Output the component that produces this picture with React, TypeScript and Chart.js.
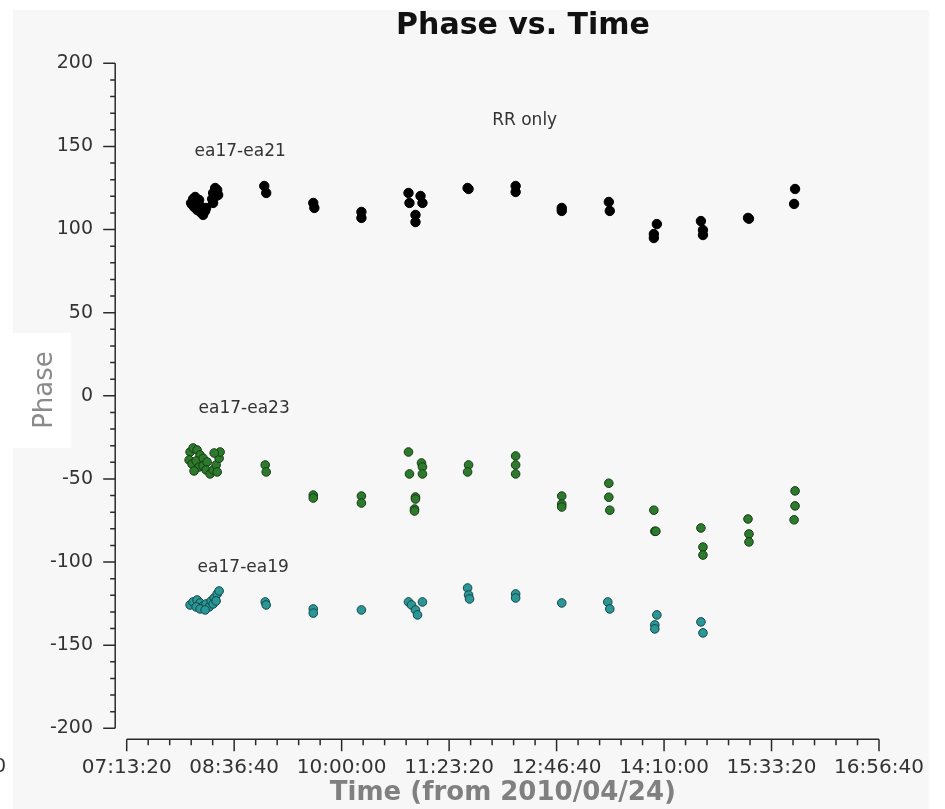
import React, { useEffect, useRef } from "react";
import { Chart, registerables } from "chart.js";

Chart.register(...registerables);

// ---------- text ----------
const TITLE = "Phase vs. Time";
const X_TITLE = "Time (from 2010/04/24)";
const Y_TITLE = "Phase";
const POL_NOTE = "RR only";

// ---------- axes ----------
const X_MIN = "07:13:20";
const X_MAX = "16:56:40";
const X_MAJOR_STEP = 5000; // seconds (1:23:20)
const X_MINOR_STEP = 1000;
const Y_MIN = -200;
const Y_MAX = 200;
const Y_MAJOR_STEP = 50;
const Y_MINOR_STEP = 10;

// ---------- data: ea17-ea21 (black) ----------
const ea21Times = [
  "08:03:15", "08:04:50", "08:06:25", "08:07:55", "08:09:30", "08:05:35", "08:07:55", "08:10:15",
  "08:12:35", "08:14:10", "08:11:50", "08:14:55", "08:09:30", "08:04:00",
  "08:19:35", "08:20:20", "08:21:55", "08:23:30", "08:22:40", "08:20:20", "08:24:15",
  "09:00:00", "09:01:30",
  "09:38:00", "09:38:50",
  "10:15:20", "10:15:20",
  "10:51:50", "10:52:35", "11:01:10", "11:02:40", "10:57:15", "10:57:15",
  "11:37:40", "11:38:25",
  "12:14:55", "12:14:55",
  "12:50:40", "12:50:40",
  "13:27:10", "13:27:55",
  "14:04:25", "14:02:05", "14:02:05",
  "14:38:35", "14:40:10", "14:40:10",
  "15:15:05", "15:15:50",
  "15:51:35", "15:50:50",
];
const ea21Phase = [
  116, 118.4, 119.6, 117.2, 114.8, 113.6, 111.8, 110.6,
  108.8, 111.2, 113, 113, 117.8, 115,
  118.4, 122, 125, 123.8, 120.2, 116, 120.8,
  126.2, 122,
  116, 113,
  110.6, 107,
  122, 116, 120.2, 116, 108.8, 104.5,
  125, 124.4,
  126.2, 122.6,
  113, 111.2,
  116.6, 111.2,
  103.3, 97.3, 94.9,
  105.1, 99.7, 96.7,
  107, 106.5,
  124.4, 115.4,
];

// ---------- data: ea17-ea23 (green) ----------
const ea23Times = [
  "08:02:30", "08:04:50", "08:07:55", "08:10:15", "08:01:45", "08:04:00", "08:07:10", "08:09:30",
  "08:12:35", "08:12:35", "08:15:40", "08:14:55", "08:18:00", "08:20:20", "08:22:40", "08:25:00",
  "08:25:45", "08:21:10", "08:23:30", "08:05:35",
  "09:00:45", "09:01:30",
  "09:38:00", "09:38:00",
  "10:15:20", "10:15:20",
  "10:51:50", "10:52:35", "11:01:55", "11:02:40", "11:02:40", "10:57:15", "10:57:15", "10:56:30", "10:56:30",
  "11:38:25", "11:37:40",
  "12:14:55", "12:14:55", "12:14:55",
  "12:50:40", "12:50:40", "12:50:40",
  "13:27:10", "13:27:10", "13:27:55",
  "14:02:05", "14:02:50", "14:03:40",
  "14:38:35", "14:40:10", "14:40:10",
  "15:15:05", "15:15:50", "15:15:50",
  "15:51:35", "15:51:35", "15:50:50",
];
const ea23Phase = [
  -33.8, -31.4, -32.6, -35.6, -38.6, -41, -39.2, -42.8,
  -37.6, -42.2, -39.8, -44.6, -47, -44.6, -41.6, -37.6,
  -33.8, -34.4, -45.8, -45.2,
  -41.6, -45.8,
  -59.7, -61.5,
  -60.3, -64.5,
  -33.8, -47, -40.4, -42.8, -47, -60.9, -62.1, -68.1, -69.3,
  -41.6, -45.8,
  -36.2, -41.6, -47,
  -60.3, -65.1, -66.9,
  -52.6, -61, -68.8,
  -68.8, -81.5, -81.5,
  -79.5, -91, -95.8,
  -74.1, -83.1, -87.9,
  -57.2, -66.2, -74.6,
];

// ---------- data: ea17-ea19 (teal) ----------
const ea19Times = [
  "08:02:30", "08:04:50", "08:07:55", "08:10:15", "08:12:35", "08:07:10", "08:10:15", "08:14:55",
  "08:17:15", "08:18:50", "08:21:10", "08:23:30", "08:25:00", "08:20:20", "08:22:40", "08:14:10",
  "09:00:45", "09:01:30",
  "09:38:00", "09:38:00",
  "10:15:20",
  "10:51:50", "10:54:10", "10:57:15", "10:58:50", "11:02:40",
  "11:37:40", "11:38:25", "11:39:10",
  "12:14:55", "12:14:55",
  "12:50:40",
  "13:26:20", "13:27:55",
  "14:04:25", "14:02:50", "14:02:50",
  "14:38:35", "14:40:10",
];
const ea19Phase = [
  -125.8, -124, -122.8, -124.6, -126.4, -127, -128.2, -125.2,
  -127, -123.4, -121.6, -119.2, -117.4, -125.2, -123.4, -128.8,
  -124, -125.8,
  -128.2, -130.7,
  -128.8,
  -124, -125.8, -128.8, -131.8, -124,
  -115.6, -119.8, -122.2,
  -119.2, -121.6,
  -124.6,
  -124, -128.2,
  -131.8, -137.8, -140.2,
  -136, -142.6,
];

// ---------- baseline labels (text placed in data coordinates) ----------
const seriesNames = ["ea17-ea21", "ea17-ea23", "ea17-ea19"];
const seriesLabelTimes = ["08:41:20", "08:44:25", "08:43:40"];
const seriesLabelPhase = [146.6, -7.9, -103.6];
const noteTime = "12:21:55";
const notePhase = 165.3;

// ---------- colours ----------
const seriesFill = ["#000000", "#2d7a2d", "#2b9696"];
const seriesEdge = ["#000000", "#153c15", "#134646"];

const FONT = '"DejaVu Sans", "Liberation Sans", sans-serif';

function toSec(s: string): number {
  const [h, m, sec] = s.split(":").map(Number);
  return h * 3600 + m * 60 + (sec || 0);
}
function fmt(v: number): string {
  const h = Math.floor(v / 3600);
  const m = Math.floor((v % 3600) / 60);
  const s = Math.round(v % 60);
  const p = (n: number) => String(n).padStart(2, "0");
  return `${p(h)}:${p(m)}:${p(s)}`;
}

const xMin = toSec(X_MIN);
const xMax = toSec(X_MAX);

const decorPlugin = {
  id: "decor",
  beforeDraw(chart: any) {
    const { ctx } = chart;
    ctx.save();
    ctx.fillStyle = "#ffffff";
    ctx.fillRect(0, 0, chart.width, chart.height);
    ctx.fillStyle = "#f7f7f7";
    ctx.fillRect(13, 10, 916, chart.height - 10);
    ctx.fillStyle = "#ffffff";
    ctx.fillRect(12, 333, 59, 115);
    // clipped tick label at far left edge
    ctx.fillStyle = "#333333";
    ctx.font = `19px ${FONT}`;
    ctx.textAlign = "right";
    ctx.textBaseline = "middle";
    ctx.fillText("0", 6, 767);
    ctx.restore();
  },
  afterDraw(chart: any) {
    const { ctx, chartArea } = chart;
    const xs = chart.scales.x;
    const ys = chart.scales.y;
    ctx.save();
    ctx.strokeStyle = "#2a2a2a";
    ctx.lineWidth = 1.5;
    // y axis line + ticks
    const ax = chartArea.left - 11.5;
    ctx.beginPath();
    ctx.moveTo(ax, ys.getPixelForValue(Y_MAX));
    ctx.lineTo(ax, ys.getPixelForValue(Y_MIN));
    for (const t of ys.ticks) {
      const py = ys.getPixelForValue(t.value);
      const major = Math.abs(t.value % Y_MAJOR_STEP) < 1e-6;
      ctx.moveTo(ax, py);
      ctx.lineTo(ax - (major ? 12 : 5), py);
    }
    ctx.stroke();
    // x axis line + ticks
    const ay = chartArea.bottom + 11;
    ctx.beginPath();
    ctx.moveTo(xs.getPixelForValue(xMin), ay);
    ctx.lineTo(xs.getPixelForValue(xMax), ay);
    for (const t of xs.ticks) {
      const px = xs.getPixelForValue(t.value);
      const major = Math.abs((t.value - xMin) % X_MAJOR_STEP) < 1e-6;
      ctx.moveTo(px, ay);
      ctx.lineTo(px, ay + (major ? 12 : 6));
    }
    ctx.stroke();

    // title
    ctx.fillStyle = "#111111";
    ctx.font = `bold 30px ${FONT}`;
    ctx.textAlign = "center";
    ctx.textBaseline = "middle";
    ctx.fillText(TITLE, 523, 26);

    // y axis title
    ctx.save();
    ctx.translate(45, 390);
    ctx.rotate(-Math.PI / 2);
    ctx.fillStyle = "#8a8a8a";
    ctx.font = `26px ${FONT}`;
    ctx.textAlign = "center";
    ctx.textBaseline = "middle";
    ctx.fillText(Y_TITLE, 0, 0);
    ctx.restore();

    // annotations
    ctx.fillStyle = "#333333";
    ctx.font = `17px ${FONT}`;
    ctx.textAlign = "center";
    ctx.textBaseline = "middle";
    seriesNames.forEach((n, i) => {
      ctx.fillText(n, xs.getPixelForValue(toSec(seriesLabelTimes[i])), ys.getPixelForValue(seriesLabelPhase[i]));
    });
    ctx.fillText(POL_NOTE, xs.getPixelForValue(toSec(noteTime)), ys.getPixelForValue(notePhase));
    ctx.restore();
  },
};

export default function App() {
  const ref = useRef<HTMLCanvasElement | null>(null);
  useEffect(() => {
    if (!ref.current) return;
    const series = [
      { t: ea21Times, p: ea21Phase },
      { t: ea23Times, p: ea23Phase },
      { t: ea19Times, p: ea19Phase },
    ];
    const chart = new Chart(ref.current, {
      type: "scatter",
      data: {
        datasets: series.map((s, i) => ({
          label: seriesNames[i],
          data: s.t.map((tt, j) => ({ x: toSec(tt), y: s.p[j] })),
          backgroundColor: seriesFill[i],
          borderColor: seriesEdge[i],
          borderWidth: 1,
          pointRadius: i === 0 ? 4.7 : 4.3,
        })),
      },
      options: {
        responsive: false,
        animation: false,
        devicePixelRatio: 1,
        layout: { padding: { left: 0, right: 66, top: 63.3, bottom: 0 } },
        plugins: {
          legend: { display: false },
          tooltip: { enabled: false },
          title: { display: false },
        },
        scales: {
          x: {
            type: "linear",
            min: xMin,
            max: xMax,
            afterFit: (s: any) => {
              s.height = 80.7;
              s.paddingLeft = 0;
              s.paddingRight = 0;
            },
            grid: { display: false, drawTicks: false },
            border: { display: false },
            ticks: {
              stepSize: X_MINOR_STEP,
              autoSkip: false,
              maxRotation: 0,
              minRotation: 0,
              maxTicksLimit: 200,
              padding: 27,
              color: "#333333",
              font: { family: FONT, size: 20 },
              callback: (v: any) => (Math.abs((Number(v) - xMin) % X_MAJOR_STEP) < 1e-6 ? fmt(Number(v)) : ""),
            },
            title: {
              display: true,
              text: X_TITLE,
              color: "#808080",
              font: { family: FONT, size: 26, weight: "bold" },
              padding: 0,
            },
          },
          y: {
            type: "linear",
            min: Y_MIN,
            max: Y_MAX,
            afterFit: (s: any) => {
              s.width = 126.7;
              s.paddingTop = 0;
              s.paddingBottom = 0;
            },
            grid: { display: false, drawTicks: false },
            border: { display: false },
            ticks: {
              stepSize: Y_MINOR_STEP,
              autoSkip: false,
              maxTicksLimit: 200,
              padding: 33.7,
              color: "#333333",
              font: { family: FONT, size: 19 },
              callback: (v: any) => (Math.abs(Number(v) % Y_MAJOR_STEP) < 1e-6 ? String(v) : ""),
            },
          },
        },
      },
      plugins: [decorPlugin],
    } as any);
    return () => chart.destroy();
  }, []);
  return (
    <div style={{ position: "absolute", left: 0, top: 0, width: 945, height: 809 }}>
      <canvas ref={ref} width={945} height={809} style={{ display: "block" }} />
    </div>
  );
}
